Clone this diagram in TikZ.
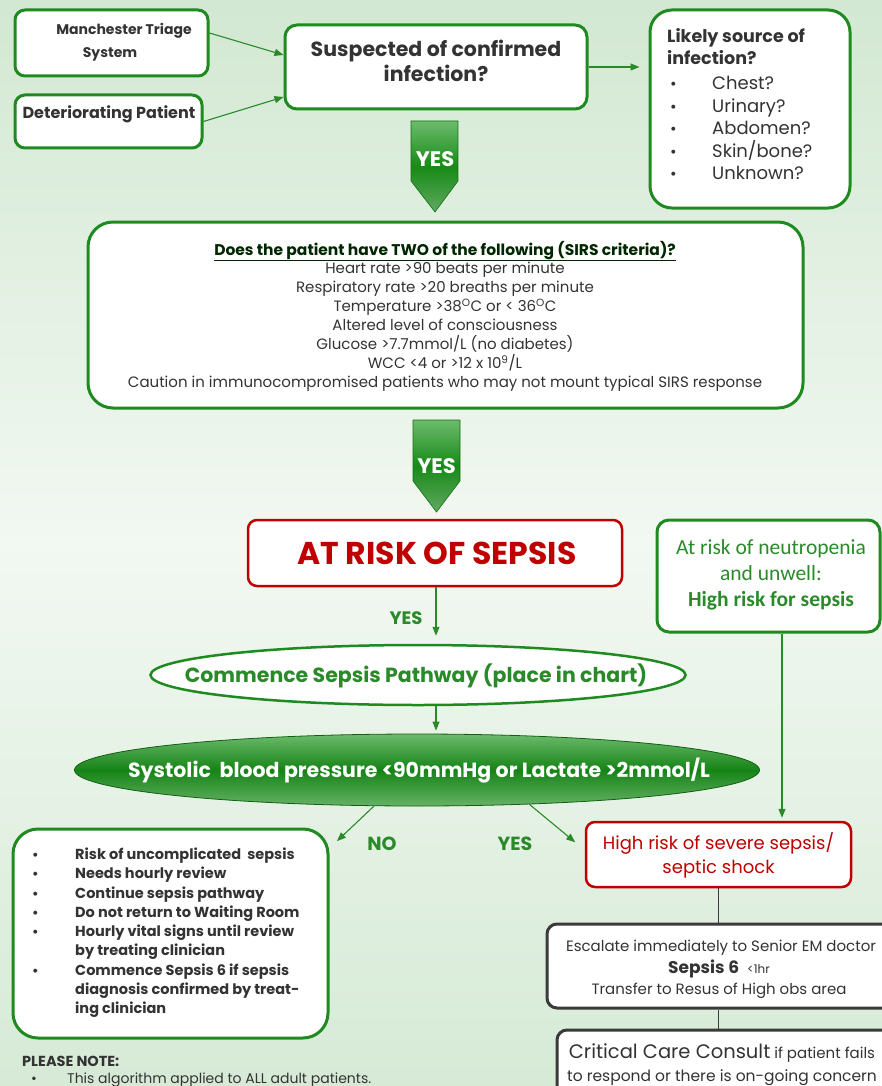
\documentclass[tikz,border=0pt]{standalone}
\usepackage{fontspec}
\setmainfont{Poppins}
\newfontfamily\calib{Carlito}
\usetikzlibrary{shapes.geometric,arrows.meta,calc}
\definecolor{bgtop}{HTML}{D2E8D2}
\definecolor{bgmid}{HTML}{F2F8F2}
\definecolor{bgbot}{HTML}{D6EAD6}
\definecolor{gb}{HTML}{1F8A1F}
\definecolor{rb}{HTML}{C00000}
\definecolor{tx}{HTML}{333333}
\definecolor{gt}{HTML}{2A8A2A}
\definecolor{kb}{HTML}{3A3A3A}
\definecolor{ylight}{HTML}{6CBB6C}
\definecolor{ydark}{HTML}{178A17}
\begin{document}
\begin{tikzpicture}[x=1pt,y=-1pt,
  gbox/.style={draw=gb,line width=3pt,rounded corners=#1,fill=white,inner sep=0pt},
  gbox/.default=10pt,
  rbox/.style={draw=rb,line width=2.5pt,rounded corners=9pt,fill=white,inner sep=0pt},
  kbox/.style={draw=kb,line width=3pt,rounded corners=10pt,fill=white,inner sep=0pt},
  t/.style={inner sep=0pt,text=tx,anchor=base},
  arr/.style={-{Triangle[length=9pt,width=7pt]},draw=gt,line width=1.1pt},
  kline/.style={draw=kb,line width=1pt},
  yesarrow/.style={draw=ydark!80!black,line width=0.6pt,top color=ylight,bottom color=ylight!90!black,middle color=ydark},
  yestxt/.style={inner sep=0pt,text=white,anchor=base,font=\bfseries\fontsize{21}{21}\selectfont},
  ]
\useasboundingbox (0,0) rectangle (882,1086);
\fill[top color=bgtop,bottom color=bgbot,middle color=bgmid] (0,0) rectangle (882,1086);

% --- top row
\node[gbox,minimum width=193pt,minimum height=66pt] (mts) at (111.5,43) {};
\node[t,font=\bfseries\fontsize{14}{14}\selectfont] (mts1) at (124,35) {Manchester Triage};
\node[t,font=\bfseries\fontsize{14}{14}\selectfont] (mts2) at (110,58) {System};

\node[gbox,minimum width=187pt,minimum height=53pt] (det) at (108.5,121.5) {};
\node[t,font=\bfseries\fontsize{16}{16}\selectfont] (det1) at (109,119) {Deteriorating Patient};

\node[gbox=12pt,minimum width=302pt,minimum height=84pt] (susp) at (436,67) {};
\node[t,font=\bfseries\fontsize{20.5}{20.5}\selectfont] (susp1) at (436,57) {Suspected of confirmed};
\node[t,font=\bfseries\fontsize{20.5}{20.5}\selectfont] (susp2) at (436,82) {infection?};

\node[gbox=22pt,minimum width=200pt,minimum height=198pt] (lik) at (750,109) {};
\node[t,anchor=base west,font=\bfseries\fontsize{17.5}{17.5}\selectfont] (lik1) at (667,43) {Likely source of};
\node[t,anchor=base west,font=\bfseries\fontsize{17.5}{17.5}\selectfont] (lik2) at (667,65) {infection?};
\foreach \s [count=\i] in {Chest?,Urinary?,Abdomen?,Skin/bone?,Unknown?}{
  \node[t,anchor=base west,font=\fontsize{16}{16}\selectfont] (likb\i) at (670,{67.5+22.5*\i}) {\textbullet};
  \node[t,anchor=base west,font=\fontsize{18}{18}\selectfont] (liki\i) at (712,{67.5+22.5*\i}) {\s};
}

\draw[arr] ([yshift=10pt]mts.east) -- ([yshift=12pt]susp.west);
\draw[arr] (det.east) -- ([yshift=-30pt]susp.west);
\draw[arr,shorten >=9pt] (susp.east) -- (susp.east -| lik.west);

% --- YES arrow 1
\path[yesarrow] (411,121) -- (458,121) -- (458,181) -- (435,212) -- (411,181) -- cycle;
\node[yestxt] (yes1) at (435,167) {YES};

% --- SIRS box
\node[gbox=25pt,minimum width=715pt,minimum height=186pt] (sirs) at (445.5,315) {};
\node[t,font=\bfseries\fontsize{15.5}{15.5}\selectfont,text=black!85!green] (sirs0) at (445,255) {\underline{Does the patient have TWO of the following (SIRS criteria)?}};
\foreach \s [count=\i] in {Heart rate >90 beats per minute,Respiratory rate >20 breaths per minute,{Temperature >38\textsuperscript{O}C or < 36\textsuperscript{O}C},Altered level of consciousness,{Glucose >7.7mmol/L (no diabetes)},{WCC <4 or >12 x 10\textsuperscript{9}/L},Caution in immunocompromised patients who may not mount typical SIRS response}{
  \node[t,font=\fontsize{15}{15}\selectfont] (sirs\i) at (445,{255+18.9*\i}) {\s};
}

% --- YES arrow 2
\path[yesarrow] (413,420) -- (460,420) -- (460,481) -- (436.5,512) -- (413,481) -- cycle;
\node[yestxt] (yes2) at (436.5,473) {YES};

% --- At risk
\node[rbox,minimum width=374pt,minimum height=66pt] (risk) at (435,553) {};
\node[t,text=rb,font=\bfseries\fontsize{31.5}{31.5}\selectfont] (risk1) at (437,564) {AT RISK OF SEPSIS};

\node[gbox=12pt,minimum width=223pt,minimum height=112pt] (neut) at (768.5,576) {};
\node[t,text=gt,font=\calib\fontsize{21.5}{21.5}\selectfont] (neut1) at (771,554) {At risk of neutropenia};
\node[t,text=gt,font=\calib\fontsize{21.5}{21.5}\selectfont] (neut2) at (771,580) {and unwell:};
\node[t,text=gt,font=\calib\bfseries\fontsize{21.5}{21.5}\selectfont] (neut3) at (771,606) {High risk for sepsis};

\node[t,text=gt,font=\bfseries\fontsize{18}{18}\selectfont] (yes3) at (406,624) {YES};

% --- Commence
\node[ellipse,draw=gb,line width=2.5pt,fill=white,minimum width=535pt,minimum height=60pt,inner sep=0pt] (comm) at (418,675) {};
\node[t,text=gt,font=\bfseries\fontsize{20.5}{20.5}\selectfont] (comm1) at (416,682) {Commence Sepsis Pathway (place in chart)};
\draw[arr,shorten >=8pt] (risk.south -| 436,0) -- (436,0 |- comm.north);

% --- Systolic
\node[ellipse,draw=ydark!70!black,line width=0.8pt,top color=ylight,bottom color=ylight!95!black,middle color=ydark!95!black,minimum width=685pt,minimum height=72pt,inner sep=0pt] (sbp) at (417,770) {};
\node[t,text=white,font=\bfseries\fontsize{20.5}{20.5}\selectfont] (sbp1) at (419,777) {Systolic\ \ blood pressure <90mmHg or Lactate >2mmol/L};
\draw[arr,shorten >=3pt] (436,0 |- comm.south) -- (436,0 |- sbp.north);

% --- High risk
\node[rbox,minimum width=265pt,minimum height=65pt] (hr) at (718.5,854.5) {};
\node[t,text=rb,font=\fontsize{18}{18}\selectfont] (hr1) at (718.5,849) {High risk of severe sepsis/};
\node[t,text=rb,font=\fontsize{18}{18}\selectfont] (hr2) at (718.5,873) {septic shock};

\draw[arr,shorten >=3pt] ([xshift=13.5pt]neut.south) -- ([xshift=13.5pt]neut.south |- hr.north);

% --- Left list
\node[gbox=25pt,minimum width=315pt,minimum height=209pt] (lst) at (170.5,933.5) {};
\foreach \s/\yy/\b [count=\i] in {Risk of uncomplicated\ \ sepsis/859/1,Needs hourly review/878/1,Continue sepsis pathway/898/1,Do not return to Waiting Room/917/1,Hourly vital signs until review/936/1,by treating clinician/955/0,Commence Sepsis 6 if sepsis/975/1,diagnosis confirmed by treat-/994/0,ing clinician/1013/0}{
  \node[t,anchor=base west,font=\bfseries\fontsize{14.5}{14.5}\selectfont] (lst\i) at (75,\yy) {\s};
  \ifnum\b=1
    \node[t,anchor=base west,font=\bfseries\fontsize{13}{13}\selectfont] (lstb\i) at (32,\yy) {\textbullet};
  \fi
}

\draw[arr,shorten >=2pt] (sbp.220) -- ([xshift=6pt,yshift=-15pt]lst.north east);
\draw[arr,shorten >=2pt] (sbp.343) -- ([xshift=-8pt,yshift=11pt]hr.west);
\node[t,text=gt,font=\bfseries\fontsize{19}{19}\selectfont] (no) at (382,850) {NO};
\node[t,text=gt,font=\bfseries\fontsize{19}{19}\selectfont] (yes4) at (515,850) {YES};

% --- Escalate
\node[kbox,minimum width=350pt,minimum height=84pt] (esc) at (722,966) {};
\node[t,font=\fontsize{15}{15}\selectfont] (esc1) at (721,951) {Escalate immediately to Senior EM doctor};
\node[t,font=\fontsize{15}{15}\selectfont] (esc2) at (719,973) {{\fontsize{17}{17}\selectfont\bfseries Sepsis 6}\ \ {\fontsize{12}{12}\selectfont <1hr}};
\node[t,font=\fontsize{15}{15}\selectfont] (esc3) at (719,994) {Transfer to Resus of High obs area};
\draw[kline] (hr.south) -- (hr.south |- esc.north);

% --- Critical
\node[kbox,minimum width=340pt,minimum height=72pt] (crit) at (727,1066) {};
\node[t,font=\fontsize{15}{15}\selectfont] (crit1) at (722,1058) {{\fontsize{19.5}{19.5}\selectfont Critical Care Consult} if patient fails};
\node[t,font=\fontsize{15.5}{15.5}\selectfont] (crit2) at (722,1081) {to respond or there is on-going concern};
\draw[kline] (hr.south |- esc.south) -- (hr.south |- crit.north);

% --- Note
\node[t,anchor=base west,font=\bfseries\fontsize{14.5}{14.5}\selectfont] (note) at (22,1066) {PLEASE NOTE:};
\node[t,anchor=base west,font=\fontsize{14}{14}\selectfont] (noteb) at (31,1083) {\textbullet};
\node[t,anchor=base west,font=\fontsize{14}{14}\selectfont] (note1) at (67,1083) {This algorithm applied to ALL adult patients.};
\end{tikzpicture}
\end{document}
